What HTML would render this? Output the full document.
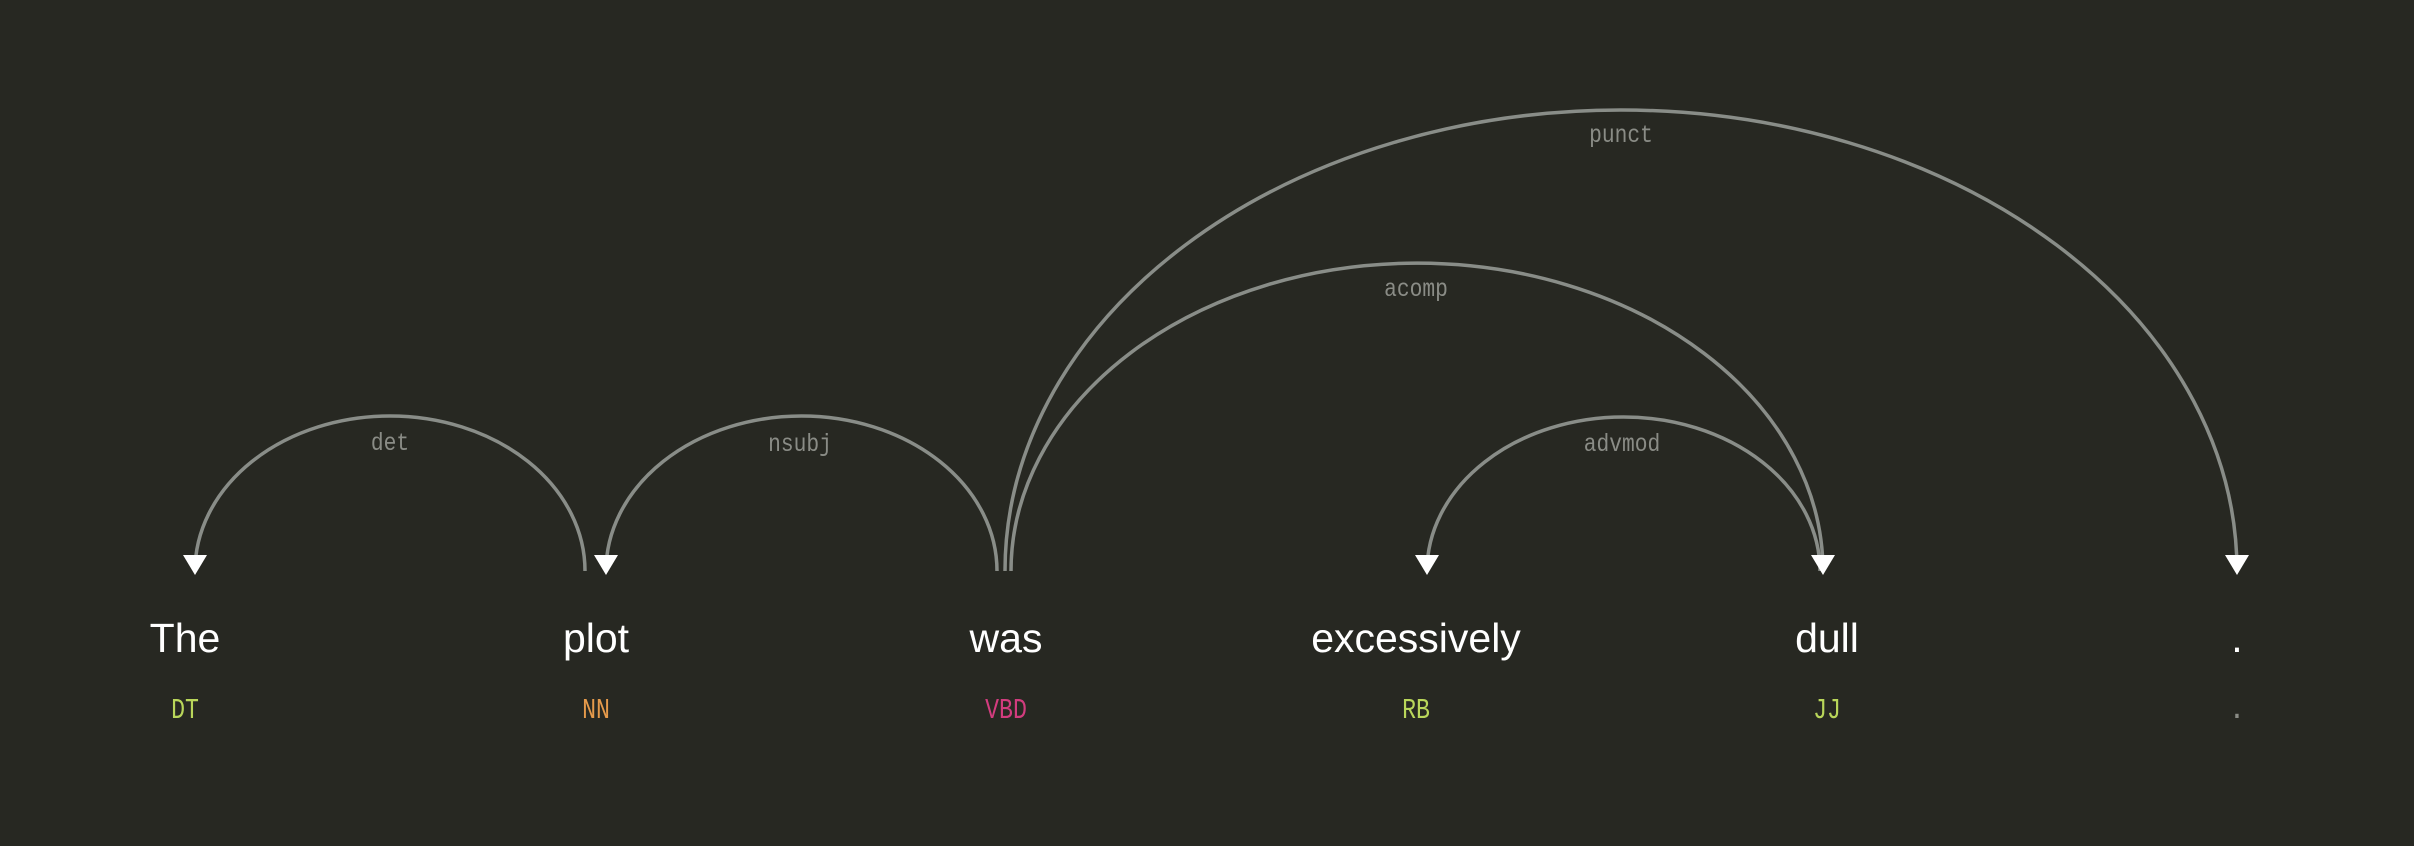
<!DOCTYPE html>
<html><head><meta charset="utf-8"><style>
html,body{margin:0;padding:0;background:#272822;}
svg{display:block}
.w{font-family:"Liberation Sans",sans-serif;font-size:41px;fill:#fff;text-anchor:middle}
.t{font-family:"Liberation Mono",monospace;font-size:29px;text-anchor:middle}
.l{font-family:"Liberation Mono",monospace;font-size:25px;fill:#8a8c86;text-anchor:middle}
.a{fill:none;stroke:#898d88;stroke-width:3.5}
</style></head><body>
<svg width="2414" height="846" viewBox="0 0 2414 846" xmlns="http://www.w3.org/2000/svg">
<rect width="2414" height="846" fill="#272822"/>
<path class="a" d="M585,571 A195,155 0 0,0 195,571"/>
<path class="a" d="M997,571 A195.5,155 0 0,0 606,571"/>
<path class="a" d="M1005,571 A616,461 0 0,1 2237,571"/>
<path class="a" d="M1011,571 A406,308 0 0,1 1823,571"/>
<path class="a" d="M1820,571 A196.5,154 0 0,0 1427,571"/>
<g fill="#fff">
<polygon points="183,555 207,555 195,575"/>
<polygon points="594,555 618,555 606,575"/>
<polygon points="1415,555 1439,555 1427,575"/>
<polygon points="1811,555 1835,555 1823,575"/>
<polygon points="2225,555 2249,555 2237,575"/>
</g>
<text class="l" x="390" y="450" transform="translate(390,0) scale(0.85,1) translate(-390,0)">det</text>
<text class="l" x="800" y="451" transform="translate(800,0) scale(0.85,1) translate(-800,0)">nsubj</text>
<text class="l" x="1621" y="142" transform="translate(1621,0) scale(0.85,1) translate(-1621,0)">punct</text>
<text class="l" x="1416" y="296" transform="translate(1416,0) scale(0.85,1) translate(-1416,0)">acomp</text>
<text class="l" x="1622" y="451" transform="translate(1622,0) scale(0.85,1) translate(-1622,0)">advmod</text>
<text class="w" x="185" y="652">The</text>
<text class="w" x="596" y="652">plot</text>
<text class="w" x="1006" y="652">was</text>
<text class="w" x="1416" y="652">excessively</text>
<text class="w" x="1827" y="652">dull</text>
<text class="w" x="2237" y="652">.</text>
<g>
<text class="t" x="185" y="718" fill="#b9d65a" transform="translate(185,0) scale(0.8,1) translate(-185,0)">DT</text>
<text class="t" x="596" y="718" fill="#e59a4b" transform="translate(596,0) scale(0.8,1) translate(-596,0)">NN</text>
<text class="t" x="1006" y="718" fill="#d23c7e" transform="translate(1006,0) scale(0.8,1) translate(-1006,0)">VBD</text>
<text class="t" x="1416" y="718" fill="#b9d65a" transform="translate(1416,0) scale(0.8,1) translate(-1416,0)">RB</text>
<text class="t" x="1827" y="718" fill="#b9d65a" transform="translate(1827,0) scale(0.8,1) translate(-1827,0)">JJ</text>
<text class="t" x="2237" y="718" fill="#8a8c86">.</text>
</g>
</svg>
</body></html>
